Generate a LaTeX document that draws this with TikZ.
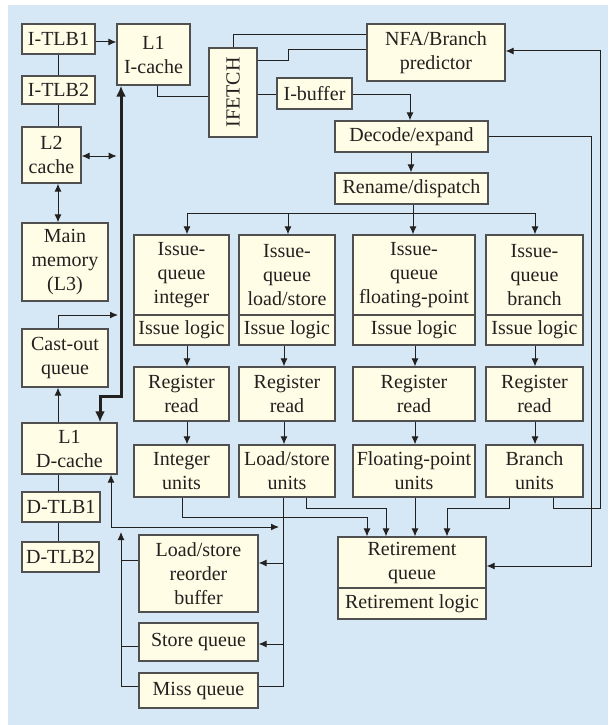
\documentclass[tikz,border=0pt]{standalone}
\usepackage{fontspec}
\setmainfont{Liberation Serif}
\usetikzlibrary{arrows.meta,calc}
\definecolor{bg}{RGB}{214,232,246}
\definecolor{cream}{RGB}{255,253,230}
\definecolor{bord}{RGB}{80,80,80}
\definecolor{lnc}{RGB}{35,32,32}
\begin{document}
\begin{tikzpicture}[x=1pt,y=-1pt,
 box/.style={draw=bord, line width=1.3pt, fill=cream, inner sep=0pt, align=center,
   font=\fontsize{20}{24}\selectfont, text=lnc},
 ln/.style={draw=lnc, line width=1pt},
 arr/.style={ln, -{Latex[length=8pt,width=7pt]}},
 darr/.style={ln, {Latex[length=8pt,width=7pt]}-{Latex[length=8pt,width=7pt]}},
 bus/.style={draw=lnc, line width=3pt, {Latex[length=11pt,width=10pt]}-{Latex[length=11pt,width=10pt]}}]
\useasboundingbox (0,0) rectangle (608,725);
\fill[white] (0,0) rectangle (608,725);
\fill[bg] (8,5) rectangle (608,725);

% left column
\node[box, minimum width=73, minimum height=30] (itlb1) at (58.5,39) {I-TLB1};
\node[box, minimum width=73, minimum height=28] (itlb2) at (58.5,90) {I-TLB2};
\node[box, minimum width=59, minimum height=56] (l2) at (51.5,155) {L2\\cache};
\node[box, minimum width=86, minimum height=78] (mm) at (65,262) {Main\\memory\\(L3)};
\node[box, minimum width=86, minimum height=58] (castout) at (65,358) {Cast-out\\queue};
\node[box, minimum width=95, minimum height=51] (l1d) at (69.5,448.5) {L1\\D-cache};
\node[box, minimum width=78, minimum height=30] (dtlb1) at (61,507) {D-TLB1};
\node[box, minimum width=77, minimum height=30] (dtlb2) at (60.5,557) {D-TLB2};

% front end
\node[box, minimum width=73, minimum height=61] (l1i) at (153.5,54.5) {L1\\I-cache};
\node[box, minimum width=48, minimum height=89] (ifetch) at (233,92.5) {};
\node[rotate=90, inner sep=0pt, font=\fontsize{20}{24}\selectfont, text=lnc] (iftxt) at (ifetch.center) {IFETCH};
\node[box, minimum width=75, minimum height=31] (ibuf) at (314.5,93.5) {I-buffer};
\node[box, minimum width=138, minimum height=57] (nfa) at (436,52.5) {NFA/Branch\\predictor};
\node[box, minimum width=153, minimum height=31] (decode) at (411.5,136.5) {Decode/expand};
\node[box, minimum width=153, minimum height=31] (rename) at (411.5,188.5) {Rename/dispatch};

% issue queues
\node[box, minimum width=95, minimum height=80] (iqint) at (181.5,275) {Issue-\\queue\\integer};
\node[box, minimum width=95, minimum height=30] (ilint) at (181.5,330) {Issue logic};
\node[box, minimum width=96, minimum height=80] (iqls) at (287,275) {Issue-\\queue\\load/store};
\node[box, minimum width=96, minimum height=30] (ills) at (287,330) {Issue logic};
\node[box, minimum width=122, minimum height=80] (iqfp) at (414,275) {Issue-\\queue\\floating-point};
\node[box, minimum width=122, minimum height=30] (ilfp) at (414,330) {Issue logic};
\node[box, minimum width=97, minimum height=80] (iqbr) at (534.5,275) {Issue-\\queue\\branch};
\node[box, minimum width=97, minimum height=30] (ilbr) at (534.5,330) {Issue logic};

% register read
\node[box, minimum width=95, minimum height=54] (rrint) at (181.5,394) {Register\\read};
\node[box, minimum width=96, minimum height=54] (rrls) at (287,394) {Register\\read};
\node[box, minimum width=122, minimum height=54] (rrfp) at (414,394) {Register\\read};
\node[box, minimum width=97, minimum height=54] (rrbr) at (534.5,394) {Register\\read};

% units
\node[box, minimum width=95, minimum height=52] (intu) at (181.5,471) {Integer\\units};
\node[box, minimum width=96, minimum height=52] (lsu) at (287,471) {Load/store\\units};
\node[box, minimum width=122, minimum height=52] (fpu) at (414,471) {Floating-point\\units};
\node[box, minimum width=97, minimum height=52] (bru) at (534.5,471) {Branch\\units};

% retirement
\node[box, minimum width=148, minimum height=51] (ret) at (412,562.5) {Retirement\\queue};
\node[box, minimum width=148, minimum height=31] (retl) at (412,603.5) {Retirement logic};

% load/store buffers
\node[box, minimum width=119, minimum height=77] (lsrob) at (198.5,573.5) {Load/store\\reorder\\buffer};
\node[box, minimum width=119, minimum height=38] (storeq) at (198.5,642) {Store queue};
\node[box, minimum width=119, minimum height=35] (missq) at (198.5,690.5) {Miss queue};

% ---- connectors ----
\draw[arr] (itlb1.east |- 0,42) -- (l1i.west |- 0,42);
\draw[ln] (itlb1.south) -- (itlb2.north);
\draw[ln] (itlb2.south) -- (itlb2.south |- l2.north);
\draw[darr] (l2.east |- 0,156) -- ++(35,0);
\draw[darr] (l2.south -| 58,0) -- (mm.north -| 58,0);
\draw[arr] (castout.north -| 58,0) -- (58,315) -- (118,315);
\draw[arr] (l1d.north -| 58,0) -- (castout.south -| 58,0);
\draw[ln] (l1d.south -| 58,0) -- (dtlb1.north -| 58,0);
\draw[ln] (dtlb1.south -| 58,0) -- (dtlb2.north -| 58,0);
\draw[bus] (l1i.south -| 121,0) -- (121,396) -- (100,396) -- (l1d.north -| 100,0);

\draw[ln] (l1i.south -| 157,0) -- (157,96) -- (ifetch.west |- 0,96);
\draw[ln] (ifetch.north -| 233,0) -- (233,35) -- (nfa.west |- 0,35);
\draw[ln] (ifetch.east |- 0,61) -- (288,61) -- (288,50) -- (nfa.west |- 0,50);
\draw[ln] (ifetch.east |- 0,94) -- (ibuf.west |- 0,94);
\draw[arr] (ibuf.east |- 0,94) -- (410,94) -- (decode.north -| 410,0);
\draw[arr] (decode.south -| 411,0) -- (rename.north -| 411,0);
\draw[ln] (rename.south -| 413,0) -- (413,213);
\draw[ln] (187,213) -- (535,213);
\draw[arr] (187,213) -- (iqint.north -| 187,0);
\draw[arr] (288,213) -- (iqls.north -| 288,0);
\draw[arr] (413,213) -- (iqfp.north -| 413,0);
\draw[arr] (535,213) -- (iqbr.north -| 535,0);

\draw[arr] (ilint.south -| 187,0) -- (rrint.north -| 187,0);
\draw[arr] (ills.south -| 284,0) -- (rrls.north -| 284,0);
\draw[arr] (ilfp.south -| 415,0) -- (rrfp.north -| 415,0);
\draw[arr] (ilbr.south -| 535,0) -- (rrbr.north -| 535,0);
\draw[arr] (rrint.south -| 187,0) -- (intu.north -| 187,0);
\draw[arr] (rrls.south -| 284,0) -- (lsu.north -| 284,0);
\draw[arr] (rrfp.south -| 415,0) -- (fpu.north -| 415,0);
\draw[arr] (rrbr.south -| 535,0) -- (bru.north -| 535,0);

\draw[arr] (intu.south -| 182,0) -- (182,517) -- (367,517) -- (ret.north -| 367,0);
\draw[arr] (lsu.south -| 306,0) -- (306,508) -- (386,508) -- (ret.north -| 386,0);
\draw[arr] (fpu.south -| 415,0) -- (ret.north -| 415,0);
\draw[arr] (bru.south -| 509,0) -- (509,508) -- (447,508) -- (ret.north -| 447,0);
\draw[arr] (bru.south -| 553,0) -- (553,508) -- (600,508) -- (600,51) -- (nfa.east |- 0,51);
\draw[arr] (decode.east) -- (591,136.5) -- (591,566) -- (ret.east |- 0,566);

\draw[ln] (lsu.south -| 283,0) -- (283,686) -- (missq.east |- 0,686);
\draw[arr] (283,563) -- (lsrob.east |- 0,563);
\draw[arr] (283,644) -- (storeq.east |- 0,644);
\draw[darr] (l1d.south -| 111,0) -- (111,527) -- (279,527);
\draw[arr] (missq.west |- 0,686) -- (121,686) -- (121,532);
\draw[ln] (lsrob.west |- 0,560) -- (121,560);
\draw[ln] (storeq.west |- 0,646) -- (121,646);
\end{tikzpicture}
\end{document}
